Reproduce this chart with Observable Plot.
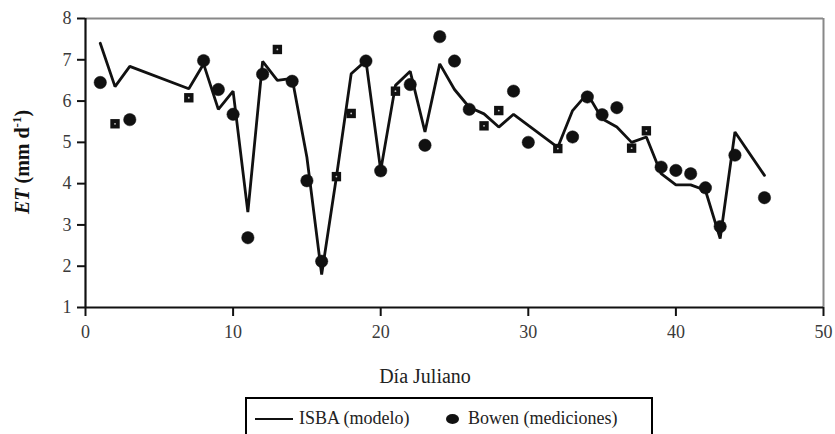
<!DOCTYPE html>
<html>
<head>
<meta charset="utf-8">
<script src="https://cdn.jsdelivr.net/npm/d3@7"></script>
<script src="https://cdn.jsdelivr.net/npm/@observablehq/plot@0.6"></script>
<style>
  html, body { margin: 0; padding: 0; background: #fff; overflow: hidden; }
  #wrap { position: relative; width: 835px; height: 434px; }
  #legend {
    position: absolute; left: 245px; top: 397px; width: 408px; height: 40px;
    border: 2px solid #000; box-sizing: border-box; background: #fff;
    font-family: "Liberation Serif", "Times New Roman", serif; font-size: 18px; color: #222;
  }
  #legend .item { position: absolute; top: 9px; display: flex; align-items: center; }
  #legend .ln { width: 38px; height: 0; border-top: 2.5px solid #111; margin-right: 6px; }
  #legend .mk { width: 13px; height: 10px; border-radius: 50%; background: #111; margin-right: 9px; }
</style>
</head>
<body>
<div id="wrap">
  <div id="chart"></div>
  <div id="legend">
    <div class="item" style="left:8px"><span class="ln"></span><span>ISBA (modelo)</span></div>
    <div class="item" style="left:199px"><span class="mk"></span><span>Bowen (mediciones)</span></div>
  </div>
</div>
<script>
// ISBA model (line)
const isbaDays = [1,2,3,7,8,9,10,11,12,13,14,15,16,17,18,19,20,21,22,23,24,25,26,27,28,29,30,32,33,34,35,36,37,38,39,40,41,42,43,44,46];
const isbaET   = [7.40,6.35,6.84,6.30,6.90,5.80,6.24,3.31,6.96,6.50,6.55,4.64,1.80,4.16,6.66,6.98,4.32,6.38,6.72,5.25,6.90,6.28,5.85,5.69,5.37,5.68,5.41,4.88,5.77,6.18,5.57,5.37,5.00,5.13,4.24,3.97,3.97,3.84,2.67,5.25,4.20];
// Bowen measurements (points)
const bowenDays = [1,2,3,7,8,9,10,11,12,13,14,15,16,17,18,19,20,21,22,23,24,25,26,27,28,29,30,32,33,34,35,36,37,38,39,40,41,42,43,44,46];
const bowenET   = [6.45,5.45,5.55,6.08,6.98,6.28,5.68,2.69,6.65,7.25,6.48,4.07,2.12,4.17,5.70,6.97,4.31,6.24,6.40,4.93,7.56,6.97,5.80,5.40,5.77,6.24,5.00,4.85,5.13,6.10,5.67,5.84,4.86,5.28,4.40,4.32,4.24,3.90,2.96,4.69,3.66];
// days whose marker appears square in the scanned figure
const squareDays = [2,7,13,17,18,21,27,28,32,37,38];
// axis ticks
const xTicks = [0,10,20,30,40,50];
const yTicks = [1,2,3,4,5,6,7,8];
const xLabel = "Día Juliano";

const isba = isbaDays.map((d, i) => ({day: d, et: isbaET[i]}));
const bowen = bowenDays.map((d, i) => ({day: d, et: bowenET[i], sq: squareDays.includes(d)}));

const serif = "'Liberation Serif', 'Times New Roman', serif";

const chart = Plot.plot({
  width: 835,
  height: 396,
  marginLeft: 85,
  marginRight: 12,
  marginTop: 18,
  marginBottom: 89,
  style: {fontFamily: serif, fontSize: "18px", color: "#3a3a3a", background: "#fff"},
  x: {domain: [0, 50], label: null},
  y: {domain: [1, 8], label: null},
  marks: [
    Plot.ruleY([8], {stroke: "#888", strokeWidth: 2}),
    Plot.ruleX([50], {stroke: "#888", strokeWidth: 2}),
    Plot.axisX({ticks: xTicks, tickFormat: d => String(d), tickSize: 9, tickPadding: 9, stroke: "#111", strokeWidth: 2, label: null, fontSize: 18}),
    Plot.axisY({ticks: yTicks, tickFormat: d => String(d), tickSize: 8, tickPadding: 6, stroke: "#111", strokeWidth: 2, label: null, fontSize: 18}),
    Plot.ruleX([0], {stroke: "#111", strokeWidth: 2.2}),
    Plot.ruleY([1], {stroke: "#111", strokeWidth: 2.2}),
    Plot.line(isba, {x: "day", y: "et", stroke: "#111", strokeWidth: 2.8, strokeLinejoin: "miter"}),
    Plot.dot(bowen.filter(d => !d.sq), {x: "day", y: "et", r: 6.2, fill: "#111", stroke: "#111", strokeWidth: 0.5}),
    Plot.dot(bowen.filter(d => d.sq), {x: "day", y: "et", r: 5.3, symbol: "square", fill: "#111"}),
    Plot.dot(bowen.filter(d => d.sq), {x: "day", y: "et", r: 0.9, fill: "#ccc"})
  ]
});
document.getElementById("chart").appendChild(chart);

const svg = d3.select(chart);
// x axis title
svg.append("text")
  .attr("x", 425).attr("y", 383)
  .attr("text-anchor", "middle")
  .attr("font-family", serif)
  .attr("font-size", 20)
  .attr("fill", "#222")
  .text(xLabel);
// rotated y label with bold italic ET and superscript
const t = svg.append("text")
  .attr("transform", "translate(29,162) rotate(-90)")
  .attr("text-anchor", "middle")
  .attr("font-family", serif)
  .attr("font-size", 20)
  .attr("font-weight", "bold")
  .attr("fill", "#111");
t.append("tspan").attr("font-style", "italic").text("ET");
t.append("tspan").text(" (mm d");
t.append("tspan").attr("font-size", 13).attr("dy", -8).text("-1");
t.append("tspan").attr("dy", 8).text(")");
</script>
</body>
</html>
